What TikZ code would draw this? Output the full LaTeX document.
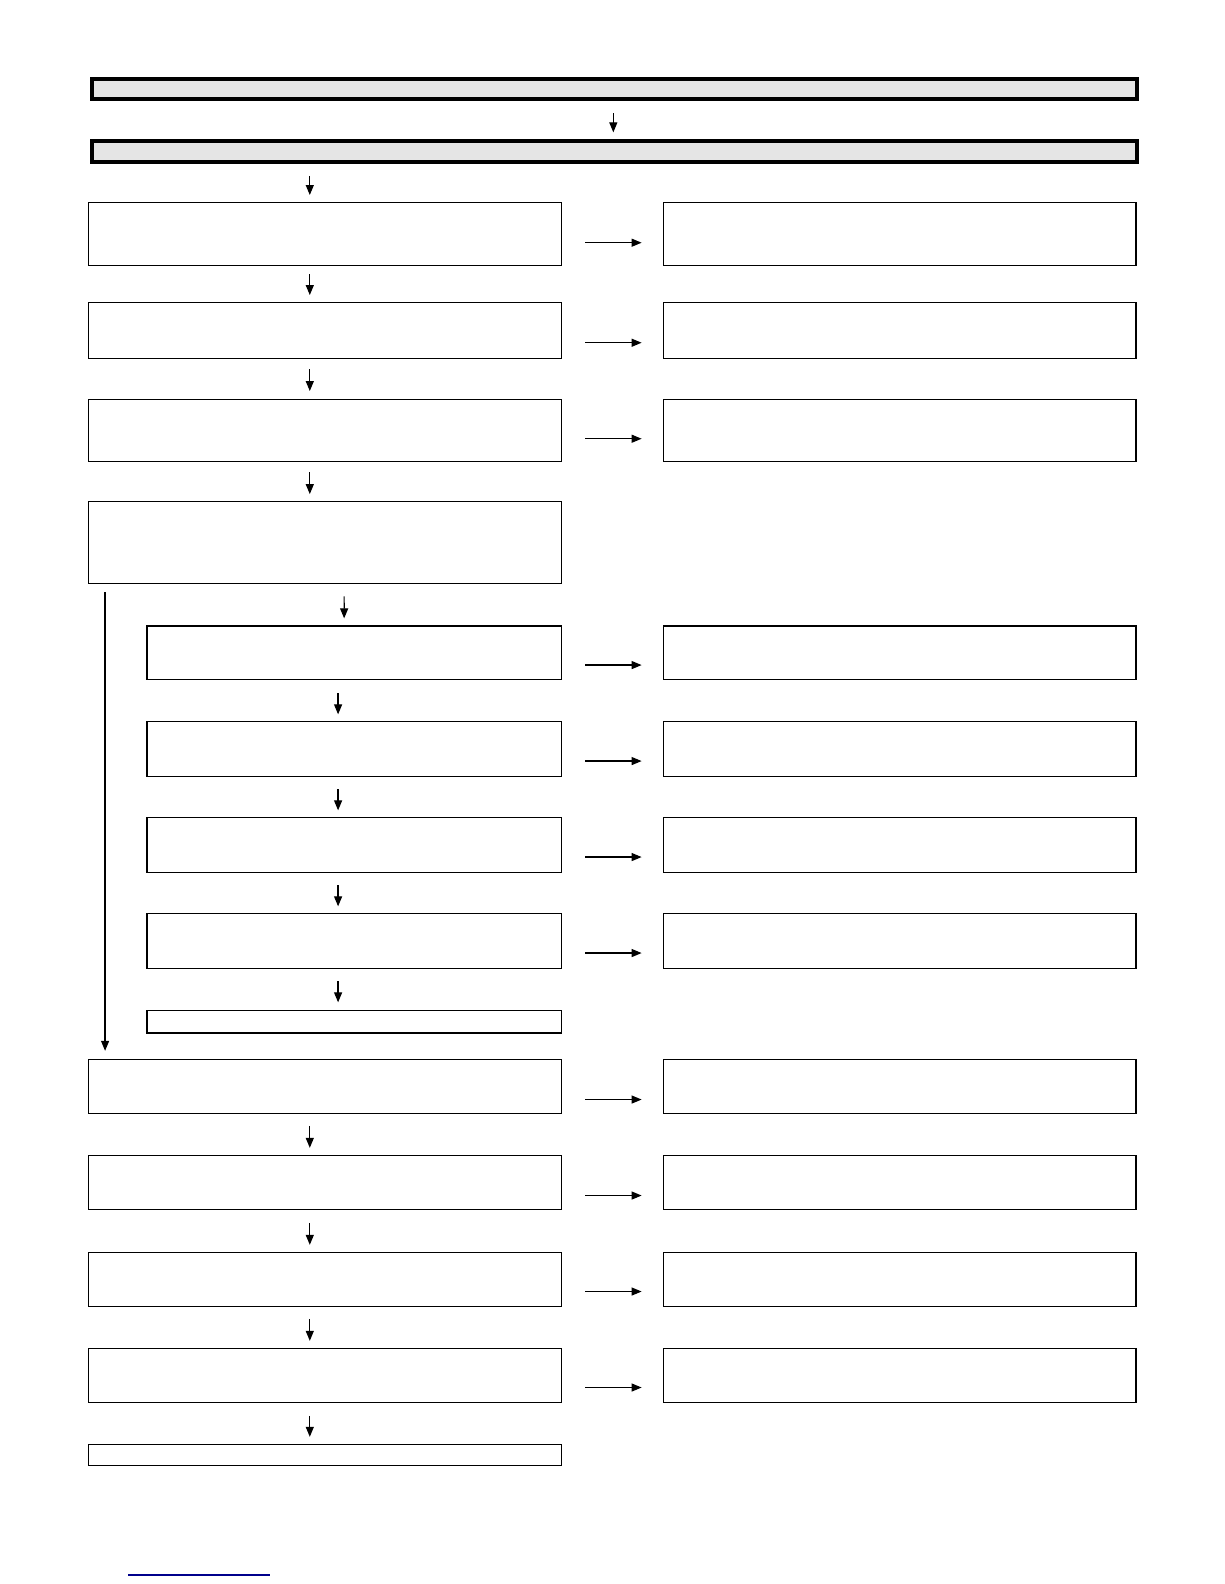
\documentclass[tikz,border=0pt]{standalone}
\usetikzlibrary{arrows.meta}
\tikzset{
  box/.style={draw, line width=1.2pt, anchor=north west, inner sep=0pt},
  lbox/.style={box, minimum width=468pt},
  sbox/.style={box, minimum width=410pt},
  headbox/.style={draw, line width=4pt, fill=black!10, anchor=north west,
    inner sep=0pt, minimum width=1035pt, minimum height=20pt},
  varrow/.style={-{Triangle[length=10pt,width=8pt]}, line width=1.2pt},
}
\begin{document}
\begin{tikzpicture}[x=1pt,y=-1pt]
   \useasboundingbox (0,0) rectangle (1224,1584);
   \begin{scope}[scale=1.0102, transform shape]

   \node[headbox] (h1) at (89,76) {};
   \node[headbox] (h2) at (89,138) {};

   \node[lbox, minimum height=62pt] (l1) at (87,200) {};
   \node[lbox, minimum height=62pt] (r1) at (656,200) {};
   \node[lbox, minimum height=55pt] (l2) at (87,299) {};
   \node[lbox, minimum height=55pt] (r2) at (656,299) {};
   \node[lbox, minimum height=61pt] (l3) at (87,395) {};
   \node[lbox, minimum height=61pt] (r3) at (656,395) {};
   \node[lbox, minimum height=81pt] (l4) at (87,496) {};

   \node[sbox, minimum height=53pt] (s1) at (145,619) {};
   \node[lbox, minimum height=53pt] (t1) at (656,619) {};
   \node[sbox, minimum height=54pt] (s2) at (145,714) {};
   \node[lbox, minimum height=54pt] (t2) at (656,714) {};
   \node[sbox, minimum height=54pt] (s3) at (145,809) {};
   \node[lbox, minimum height=54pt] (t3) at (656,809) {};
   \node[sbox, minimum height=54pt] (s4) at (145,904) {};
   \node[lbox, minimum height=54pt] (t4) at (656,904) {};
   \node[sbox, minimum height=22pt] (s5) at (145,1000) {};

   \node[lbox, minimum height=54pt] (m1) at (87,1048) {};
   \node[lbox, minimum height=54pt] (n1) at (656,1048) {};
   \node[lbox, minimum height=54pt] (m2) at (87,1143) {};
   \node[lbox, minimum height=54pt] (n2) at (656,1143) {};
   \node[lbox, minimum height=54pt] (m3) at (87,1239) {};
   \node[lbox, minimum height=54pt] (n3) at (656,1239) {};
   \node[lbox, minimum height=54pt] (m4) at (87,1334) {};
   \node[lbox, minimum height=54pt] (n4) at (656,1334) {};
   \node[lbox, minimum height=21pt] (m5) at (87,1429) {};

   \draw[varrow] ([xshift=-1.5pt,yshift=-12pt]h1.south) -- ([xshift=-1.5pt,yshift=7pt]h2.north);
   \draw[varrow] ([xshift=-15pt,yshift=-12pt]h2.south -| l1.north) -- ([xshift=-15pt,yshift=7pt]l1.north);
   \draw[varrow] ([xshift=-15pt,yshift=-8pt]l1.south) -- ([xshift=-15pt,yshift=7pt]l2.north);
   \draw[varrow] ([xshift=-15pt,yshift=-10pt]l2.south) -- ([xshift=-15pt,yshift=8pt]l3.north);
   \draw[varrow] ([xshift=-15pt,yshift=-10pt]l3.south) -- ([xshift=-15pt,yshift=7pt]l4.north);
   \draw[varrow] ([xshift=19pt,yshift=-12pt]l4.south) -- ([xshift=-10pt,yshift=7pt]s1.north);
   \draw[varrow] ([xshift=-16pt,yshift=-13pt]s1.south) -- ([xshift=-16pt,yshift=7pt]s2.north);
   \draw[varrow] ([xshift=-16pt,yshift=-12pt]s2.south) -- ([xshift=-16pt,yshift=7pt]s3.north);
   \draw[varrow] ([xshift=-16pt,yshift=-12pt]s3.south) -- ([xshift=-16pt,yshift=7pt]s4.north);
   \draw[varrow] ([xshift=-16pt,yshift=-12pt]s4.south) -- ([xshift=-16pt,yshift=8pt]s5.north);
   \draw[varrow] ([xshift=17pt,yshift=-8pt]l4.south west) -- ([xshift=17pt,yshift=8pt]m1.north west);
   \draw[varrow] ([xshift=-15pt,yshift=-11pt]m1.south) -- ([xshift=-15pt,yshift=7pt]m2.north);
   \draw[varrow] ([xshift=-15pt,yshift=-12pt]m2.south) -- ([xshift=-15pt,yshift=7pt]m3.north);
   \draw[varrow] ([xshift=-15pt,yshift=-11pt]m3.south) -- ([xshift=-15pt,yshift=7pt]m4.north);
   \draw[varrow] ([xshift=-15pt,yshift=-12pt]m4.south) -- ([xshift=-15pt,yshift=7pt]m5.north);

   \draw[varrow] ([xshift=23pt,yshift=23pt]l1.south east) -- ([xshift=-21pt,yshift=23pt]r1.south west);
   \draw[varrow] ([xshift=23pt,yshift=16pt]l2.south east) -- ([xshift=-21pt,yshift=16pt]r2.south west);
   \draw[varrow] ([xshift=23pt,yshift=23pt]l3.south east) -- ([xshift=-21pt,yshift=23pt]r3.south west);
   \draw[varrow] ([xshift=23pt,yshift=15pt]s1.south east) -- ([xshift=-21pt,yshift=15pt]t1.south west);
   \draw[varrow] ([xshift=23pt,yshift=16pt]s2.south east) -- ([xshift=-21pt,yshift=16pt]t2.south west);
   \draw[varrow] ([xshift=23pt,yshift=16pt]s3.south east) -- ([xshift=-21pt,yshift=16pt]t3.south west);
   \draw[varrow] ([xshift=23pt,yshift=16pt]s4.south east) -- ([xshift=-21pt,yshift=16pt]t4.south west);
   \draw[varrow] ([xshift=23pt,yshift=15pt]m1.south east) -- ([xshift=-21pt,yshift=15pt]n1.south west);
   \draw[varrow] ([xshift=23pt,yshift=15pt]m2.south east) -- ([xshift=-21pt,yshift=15pt]n2.south west);
   \draw[varrow] ([xshift=23pt,yshift=16pt]m3.south east) -- ([xshift=-21pt,yshift=16pt]n3.south west);
   \draw[varrow] ([xshift=23pt,yshift=16pt]m4.south east) -- ([xshift=-21pt,yshift=16pt]n4.south west);

   \draw[color=blue!55!black, line width=2pt] (127,1559) -- (267,1559);
   \end{scope}
 \end{tikzpicture}
\end{document}
